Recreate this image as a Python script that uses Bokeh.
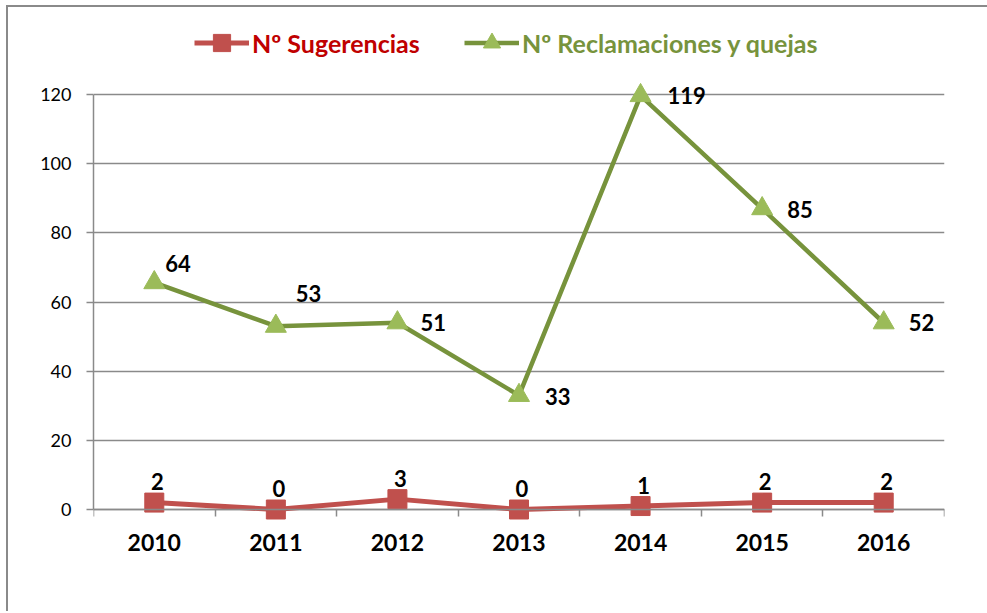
import numpy as np
from bokeh.plotting import figure
from bokeh.models import (ColumnDataSource, Range1d, LinearAxis, FixedTicker,
                          Legend, LegendItem, Grid)
from bokeh.core.properties import value
from bokeh.embed import file_html
from bokeh.resources import INLINE

# ---------------- data ----------------
years = ["2010", "2011", "2012", "2013", "2014", "2015", "2016"]
sugerencias = [2, 0, 3, 0, 1, 2, 2]
sug_labels = ["2", "0", "3", "0", "1", "2", "2"]
reclamaciones = [65.6, 53, 54, 33, 119.7, 87, 54]
rec_labels = ["64", "53", "51", "33", "119", "85", "52"]
y_ticks = [0, 20, 40, 60, 80, 100, 120]

# ---------------- style ----------------
RED = "#C0504D"
RED_TEXT = "#C00000"
GREEN_LINE = "#77933C"
GREEN_FILL = "#9BBB59"
GRAY = "#8A8A8A"
FONT = "Lato"
rec_dx = [11, 20, 23, 26, 27, 25, 25]
rec_dy = [-19, -33, 0, 1, 0, 1, 0]

n = len(years)
centers = [i + 0.5 for i in range(n)]

W, H = 1000, 611
p = figure(width=W, height=H,
           x_range=Range1d(0, n), y_range=Range1d(-13.59, 141.40),
           x_axis_type=None, y_axis_type=None,
           output_backend="svg", toolbar_location=None,
           min_border_left=93, min_border_right=56,
           min_border_top=20, min_border_bottom=55,
           styles={"box-shadow": "inset 6px 5px 0px 0px #ffffff, inset 8px 7px 0px 0px #8A8A8A"})
p.outline_line_color = None
p.background_fill_color = "white"
p.border_fill_color = None

# grid
grid = Grid(dimension=1, ticker=FixedTicker(ticks=y_ticks), bounds=(0, 120),
            grid_line_color=GRAY, grid_line_width=1.5)
p.add_layout(grid)

# y axis
yaxis = LinearAxis(ticker=FixedTicker(ticks=y_ticks), bounds=(0, 120))
yaxis.axis_line_color = GRAY
yaxis.axis_line_width = 1.5
yaxis.major_tick_line_color = GRAY
yaxis.major_tick_line_width = 1.5
yaxis.major_tick_out = 7
yaxis.major_tick_in = 0
yaxis.minor_tick_line_color = None
yaxis.major_label_text_font = FONT
yaxis.major_label_text_font_size = "18px"
yaxis.major_label_text_color = "#000000"
yaxis.major_label_standoff = 15
p.add_layout(yaxis, "left")

# x axis line + tick marks at category boundaries (ticks pointing down)
xaxis_t = LinearAxis(ticker=FixedTicker(ticks=list(range(n + 1))), fixed_location=0)
xaxis_t.axis_line_color = GRAY
xaxis_t.axis_line_width = 1.5
xaxis_t.major_tick_line_color = GRAY
xaxis_t.major_tick_line_width = 1.5
xaxis_t.major_tick_out = 0
xaxis_t.major_tick_in = 7
xaxis_t.minor_tick_line_color = None
xaxis_t.major_label_text_alpha = 0
xaxis_t.major_label_text_font_size = "1px"
xaxis_t.major_label_standoff = 0
p.add_layout(xaxis_t, "above")

# x axis: category labels at centers
xaxis_l = LinearAxis(ticker=FixedTicker(ticks=centers), fixed_location=0,
                     major_label_overrides={c: y for c, y in zip(centers, years)})
xaxis_l.axis_line_color = None
xaxis_l.major_tick_line_color = None
xaxis_l.minor_tick_line_color = None
xaxis_l.major_tick_out = 0
xaxis_l.major_tick_in = 0
xaxis_l.major_label_text_font = FONT
xaxis_l.major_label_text_font_style = "bold"
xaxis_l.major_label_text_font_size = "23px"
xaxis_l.major_label_text_color = "#000000"
xaxis_l.major_label_standoff = 24
p.add_layout(xaxis_l, "below")

# series
src_r = ColumnDataSource(dict(x=centers, y=sugerencias, text=sug_labels))
src_g = ColumnDataSource(dict(x=centers, y=reclamaciones, text=rec_labels,
                              dx=rec_dx, dy=rec_dy))

g_line = p.line("x", "y", source=src_g, line_color=GREEN_LINE, line_width=4.5)
g_mark = p.scatter("x", "y", source=src_g, marker="triangle", size=21,
                   fill_color=GREEN_FILL, line_color=GREEN_FILL)
r_line = p.line("x", "y", source=src_r, line_color=RED, line_width=5)
r_mark = p.scatter("x", "y", source=src_r, marker="square", size=19,
                   fill_color=RED, line_color=RED)

p.text("x", "y", text="text", source=src_r, x_offset=3, y_offset=-21,
       text_align="center", text_baseline="middle",
       text_font=value(FONT), text_font_style="bold", text_font_size="22px",
       text_color="#000000")
p.text("x", "y", text="text", source=src_g, x_offset="dx", y_offset="dy",
       text_align="left", text_baseline="middle",
       text_font=value(FONT), text_font_style="bold", text_font_size="22px",
       text_color="#000000")

# legends (two, for separate label colours)
def make_legend(label, rends, loc, color):
    return Legend(items=[LegendItem(label=label, renderers=rends)],
                  location=loc, orientation="horizontal",
                  glyph_width=55, glyph_height=43, label_standoff=3,
                  padding=0, margin=0, spacing=0,
                  border_line_color=None, background_fill_alpha=0,
                  label_text_font=FONT, label_text_font_style="bold",
                  label_text_font_size="25px", label_text_color=color)

p.add_layout(make_legend("Nº Sugerencias", [r_line, r_mark], (101, 492), RED_TEXT), "center")
p.add_layout(make_legend("Nº Reclamaciones y quejas", [g_line, g_mark], (371, 492), GREEN_LINE), "center")

open("out.html", "w").write(file_html(p, INLINE))
